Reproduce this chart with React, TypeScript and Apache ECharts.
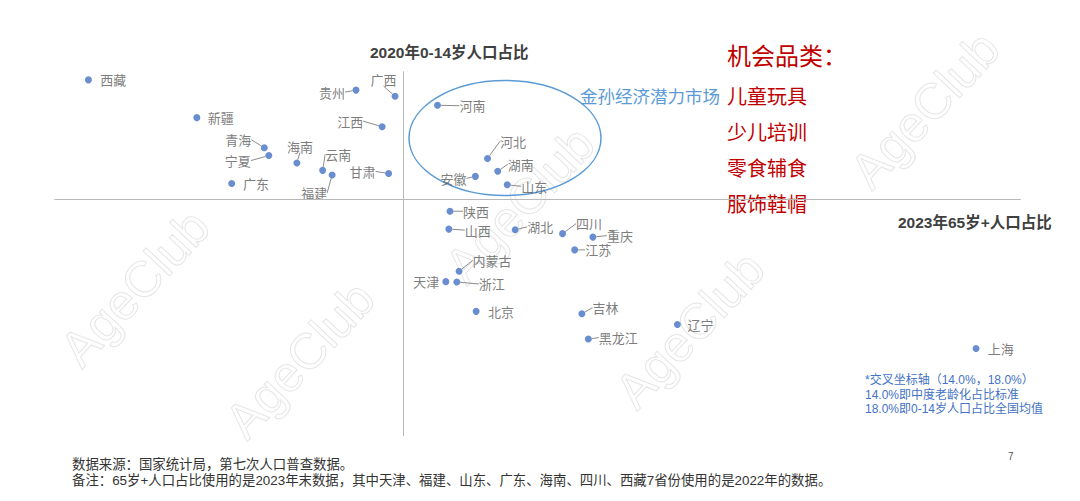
import React, { useEffect, useRef } from "react";
import * as echarts from "echarts";

// ---- data ----
const provinces = ["西藏","贵州","广西","新疆","江西","青海","宁夏","海南","云南","福建","甘肃","广东","河南","河北","湖南","安徽","山东","陕西","山西","湖北","四川","重庆","江苏","内蒙古","天津","浙江","北京","吉林","黑龙江","辽宁","上海"];
// 2023年65岁+人口占比 (%)
const elderlyShare = [5.70,12.76,13.79,8.56,13.45,10.34,10.46,11.20,11.88,12.13,13.62,9.48,14.91,16.23,16.50,15.91,16.75,15.24,15.21,16.96,18.21,19.01,18.53,15.48,15.13,15.42,15.93,18.72,18.89,21.24,29.12];
// 2020年0-14岁人口占比 (%)
const childShare = [24.53,23.97,23.63,22.46,21.96,20.81,20.38,19.97,19.57,19.32,19.40,18.85,23.14,20.22,19.52,19.24,18.78,17.33,16.35,16.31,16.10,15.91,15.21,14.04,13.47,13.45,11.84,11.71,10.32,11.12,9.80];
const crossX = 14.0;
const crossY = 18.0;
const xTitle = "2023年65岁+人口占比";
const yTitle = "2020年0-14岁人口占比";
const opportunityTitle = "机会品类：";
const opportunityCategories = ["儿童玩具","少儿培训","零食辅食","服饰鞋帽"];
const marketLabel = "金孙经济潜力市场";
const noteLines = ["*交叉坐标轴（14.0%，18.0%）","14.0%即中度老龄化占比标准","18.0%即0-14岁人口占比全国均值"];
const footerLines = ["数据来源：国家统计局，第七次人口普查数据。","备注：65岁+人口占比使用的是2023年末数据，其中天津、福建、山东、广东、海南、四川、西藏7省份使用的是2022年的数据。"];

// ---- label placement (dx, dy from point, leader line) ----
const labelPlacement: Record<string, [number, number, boolean]> = {
  "西藏": [24.7, 0, false], "贵州": [-24, 2, true], "广西": [-11.5, -16.7, true], "新疆": [24, 0, false],
  "江西": [-32, -5.6, true], "青海": [-26, -8, true], "宁夏": [-31, 5, true], "海南": [3, -17, true],
  "云南": [15.5, -16, true], "福建": [-18, 18, true], "甘肃": [-26, -2, true], "广东": [24.3, 0, false],
  "河南": [35, 0.5, true], "河北": [25.6, -17.3, true], "湖南": [23, -7, true], "安徽": [-22, 2, true],
  "山东": [27, 1.5, true], "陕西": [26, 0, true], "山西": [29, 1, true], "湖北": [25, -3, true],
  "四川": [26.5, -10, true], "重庆": [27, -1.5, true], "江苏": [23.5, 0, true], "内蒙古": [33, -10.7, true],
  "天津": [-19.7, 0, false], "浙江": [35, 2, true], "北京": [24.8, 0, false], "吉林": [23.6, -6, true],
  "黑龙江": [30, -1.5, true], "辽宁": [23, 0, false], "上海": [24.7, 0, false],
};

const watermarkCenters: [number, number][] = [
  [520, 205], [925, 110], [135, 288], [690, 330], [300, 360],
];

const CJK = "'Noto Sans CJK SC', sans-serif";
const LATIN_CJK = "'Liberation Sans', 'Noto Sans CJK SC', sans-serif";

function txt(text: string, x: number, y: number, fontSize: number, fill: string, extra: any = {}) {
  return {
    type: "text", x, y, silent: true, z: 5,
    style: {
      text, fill, fontSize, fontFamily: extra.fontFamily || CJK, fontWeight: extra.fontWeight || "normal",
      lineHeight: extra.lineHeight || Math.round(fontSize * 1.2),
      align: extra.align || "left", textAlign: extra.align || "left",
      verticalAlign: "middle", textVerticalAlign: "middle",
    },
  };
}

export default function App() {
  const ref = useRef<HTMLDivElement>(null);
  useEffect(() => {
    if (!ref.current) return;
    const chart = echarts.init(ref.current, undefined, { renderer: "svg" });
    const data = provinces.map((name, i) => ({
      name,
      value: [elderlyShare[i], childShare[i]],
      labelLine: { show: labelPlacement[name][2] },
    }));
    const graphics: any[] = [];
    watermarkCenters.forEach(([cx, cy]) => {
      graphics.push({
        type: "text", x: cx, y: cy, rotation: 0.82, silent: true, z: 0,
        style: {
          text: "AgeClub", fill: "rgba(0,0,0,0)", stroke: "#e6e6e6", lineWidth: 1,
          fontSize: 50, fontFamily: "'Liberation Sans', sans-serif",
          align: "center", textAlign: "center", verticalAlign: "middle", textVerticalAlign: "middle",
        },
      });
    });
    graphics.push({
      type: "ellipse", silent: true, z: 1,
      shape: { cx: 505, cy: 138, rx: 96, ry: 57.5 },
      style: { fill: "none", stroke: "#5B9BD5", lineWidth: 1.5 },
    });
    graphics.push(txt(yTitle, 370, 52, 15.5, "#404040", { fontFamily: LATIN_CJK, fontWeight: "bold" }));
    graphics.push(txt(xTitle, 898, 222, 15.5, "#404040", { fontFamily: LATIN_CJK, fontWeight: "bold" }));
    graphics.push(txt(opportunityTitle, 727, 54, 24, "#C00000"));
    opportunityCategories.forEach((c, i) => graphics.push(txt(c, 727, 95 + i * 36, 20, "#C00000")));
    graphics.push(txt(marketLabel, 580, 95, 17.5, "#5B9BD5"));
    noteLines.forEach((l, i) => graphics.push(txt(l, 865, 380 + i * 14.7, 12, "#4472C4", { fontFamily: LATIN_CJK, lineHeight: 14 })));
    footerLines.forEach((l, i) => graphics.push(txt(l, 72, 464.5 + i * 15.5, 13.4, "#333333", { fontFamily: LATIN_CJK, lineHeight: 15 })));
    graphics.push(txt("7", 1008, 456, 10, "#595959", { fontFamily: LATIN_CJK }));

    chart.setOption({
      animation: false,
      backgroundColor: "#ffffff",
      grid: { left: 54.32, right: 59.23, top: 71.32, bottom: 64.88 },
      xAxis: { type: "value", min: 4.8, max: 30.3, show: false, splitLine: { show: false } },
      yAxis: { type: "value", min: 5, max: 25, show: false, splitLine: { show: false } },
      graphic: { elements: graphics },
      series: [
        {
          type: "scatter",
          symbol: "circle",
          symbolSize: 7,
          itemStyle: { color: "#4472C4" },
          data,
          label: {
            show: true,
            position: "inside",
            formatter: "{b}",
            color: "#595959",
            fontSize: 13,
            fontFamily: CJK,
          },
          labelLine: { show: true, lineStyle: { color: "#8c8c8c", width: 1 } },
          labelLayout: (params: any) => {
            const p = labelPlacement[provinces[params.dataIndex]];
            return { dx: p[0], dy: p[1] };
          },
          markLine: {
            silent: true,
            symbol: "none",
            label: { show: false },
            lineStyle: { color: "#b8b8b8", width: 1, type: "solid" },
            data: [{ xAxis: crossX }, { yAxis: crossY }],
          },
        },
      ],
    });
    return () => chart.dispose();
  }, []);
  return (
    <div
      ref={ref}
      style={{ position: "fixed", left: 0, top: 0, width: 1080, height: 501, background: "#fff" }}
    />
  );
}
